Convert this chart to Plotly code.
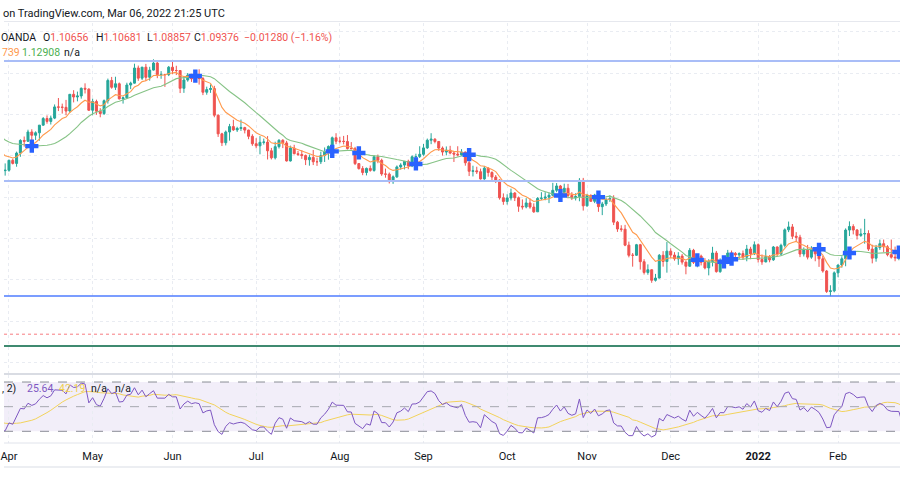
import numpy as np
import pandas as pd
import plotly.graph_objects as go

# ---------------- data (EUR/USD daily, OANDA) ----------------
# closes before the visible window (Feb 1 - Mar 26, 2021), used only to warm up the indicators
warmup_close = [
    1.2061, 1.2040, 1.2036, 1.1963, 1.2047, 1.2050, 1.2119, 1.2119, 1.2132, 1.2118,
    1.2126, 1.2105, 1.2037, 1.2092, 1.2118, 1.2156, 1.2149, 1.2165, 1.2175, 1.2075,
    1.2048, 1.2090, 1.2063, 1.1967, 1.1917, 1.1846, 1.1900, 1.1928, 1.1985, 1.1953,
    1.1930, 1.1901, 1.1977, 1.1915, 1.1905, 1.1937, 1.1851, 1.1815, 1.1778, 1.1793,
]

# visible bars: Mar 29, 2021 - Mar 4, 2022
open_px = [
    1.1795, 1.1764, 1.1728,
    1.1730, 1.1778, 1.1763, 1.1813, 1.1874, 1.1870, 1.1915, 1.1899, 1.1911, 1.1948, 1.1980,
    1.1966, 1.1982, 1.2036, 1.2035, 1.2034, 1.2016, 1.2097, 1.2084, 1.2089, 1.2126, 1.2122,
    1.2020, 1.2062, 1.2015, 1.2004, 1.2066, 1.2164, 1.2131, 1.2148, 1.2075, 1.2080, 1.2142,
    1.2151, 1.2224, 1.2175, 1.2228, 1.2179, 1.2214, 1.2248, 1.2192, 1.2193, 1.2192,
    1.2228, 1.2212, 1.2212, 1.2126, 1.2166, 1.2190, 1.2172, 1.2179, 1.2173, 1.2107, 1.2120,
    1.2125, 1.1996, 1.1906, 1.1863, 1.1915, 1.1941, 1.1925, 1.1932, 1.1936, 1.1924, 1.1894,
    1.1858, 1.1848, 1.1865, 1.1866, 1.1824, 1.1790, 1.1844, 1.1875, 1.1862, 1.1775, 1.1837,
    1.1810, 1.1806, 1.1801, 1.1781, 1.1792, 1.1771, 1.1771, 1.1801, 1.1819, 1.1845, 1.1887,
    1.1870, 1.1870, 1.1869, 1.1835, 1.1834, 1.1762, 1.1738, 1.1719, 1.1739, 1.1729, 1.1795,
    1.1778, 1.1712, 1.1711, 1.1675, 1.1698, 1.1746, 1.1755, 1.1773, 1.1751, 1.1795, 1.1796,
    1.1807, 1.1838, 1.1875, 1.1880, 1.1869, 1.1837, 1.1818, 1.1827, 1.1813, 1.1808, 1.1804,
    1.1818, 1.1766, 1.1725, 1.1727, 1.1723, 1.1688, 1.1740, 1.1719, 1.1697, 1.1683, 1.1597,
    1.1579, 1.1596, 1.1620, 1.1597, 1.1556, 1.1553, 1.1572, 1.1552, 1.1529, 1.1594, 1.1595,
    1.1600, 1.1609, 1.1633, 1.1654, 1.1623, 1.1643, 1.1608, 1.1597, 1.1603, 1.1681,
    1.1558, 1.1608, 1.1580, 1.1610, 1.1554, 1.1567, 1.1588, 1.1593, 1.1479, 1.1446, 1.1445,
    1.1368, 1.1319, 1.1319, 1.1370, 1.1288, 1.1236, 1.1249, 1.1198, 1.1209, 1.1319, 1.1289,
    1.1339, 1.1320, 1.1302, 1.1315, 1.1286, 1.1266, 1.1343, 1.1285, 1.1315, 1.1285, 1.1258,
    1.1289, 1.1330, 1.1240, 1.1281, 1.1280, 1.1330, 1.1328, 1.1321, 1.1327, 1.1310, 1.1349, 1.1326,
    1.1370, 1.1299, 1.1287, 1.1313, 1.1297, 1.1359, 1.1325, 1.1367, 1.1442, 1.1456, 1.1411,
    1.1406, 1.1325, 1.1344, 1.1310, 1.1345, 1.1326, 1.1302, 1.1243, 1.1144, 1.1147,
    1.1234, 1.1272, 1.1302, 1.1441, 1.1458, 1.1441, 1.1415, 1.1422, 1.1424, 1.1349,
    1.1305, 1.1356, 1.1375, 1.1360, 1.1322, 1.1310, 1.1307, 1.1308, 1.1191, 1.1270,
    1.1219, 1.1125, 1.1120, 1.1066,
]
high_px = [
    1.1800, 1.1770, 1.1763,
    1.1781, 1.1786, 1.1820, 1.1880, 1.1893, 1.1926, 1.1928, 1.1918, 1.1948, 1.1987, 1.1995,
    1.1994, 1.2048, 1.2079, 1.2052, 1.2070, 1.2098, 1.2117, 1.2110, 1.2130, 1.2150, 1.2126,
    1.2076, 1.2071, 1.2030, 1.2072, 1.2173, 1.2181, 1.2182, 1.2154, 1.2086, 1.2153, 1.2158,
    1.2245, 1.2236, 1.2230, 1.2244, 1.2230, 1.2266, 1.2262, 1.2209, 1.2196, 1.2234,
    1.2254, 1.2235, 1.2214, 1.2185, 1.2200, 1.2196, 1.2196, 1.2218, 1.2182, 1.2134, 1.2145,
    1.2138, 1.2000, 1.1911, 1.1922, 1.1954, 1.1974, 1.1940, 1.1975, 1.1940, 1.1926, 1.1904,
    1.1885, 1.1895, 1.1883, 1.1895, 1.1838, 1.1868, 1.1880, 1.1880, 1.1872, 1.1849, 1.1853,
    1.1823, 1.1827, 1.1806, 1.1806, 1.1828, 1.1791, 1.1820, 1.1840, 1.1850, 1.1893, 1.1909,
    1.1892, 1.1896, 1.1900, 1.1866, 1.1843, 1.1765, 1.1750, 1.1743, 1.1753, 1.1803, 1.1806,
    1.1786, 1.1738, 1.1719, 1.1705, 1.1753, 1.1764, 1.1774, 1.1781, 1.1802, 1.1810, 1.1846,
    1.1857, 1.1883, 1.1909, 1.1885, 1.1871, 1.1845, 1.1845, 1.1848, 1.1819, 1.1846, 1.1832,
    1.1820, 1.1781, 1.1752, 1.1747, 1.1738, 1.1751, 1.1745, 1.1725, 1.1707, 1.1686, 1.1618,
    1.1614, 1.1641, 1.1624, 1.1603, 1.1589, 1.1595, 1.1594, 1.1570, 1.1600, 1.1624, 1.1624,
    1.1622, 1.1669, 1.1668, 1.1659, 1.1665, 1.1664, 1.1624, 1.1619, 1.1692, 1.1693,
    1.1616, 1.1614, 1.1616, 1.1616, 1.1577, 1.1597, 1.1609, 1.1609, 1.1485, 1.1464, 1.1466,
    1.1385, 1.1330, 1.1374, 1.1374, 1.1300, 1.1275, 1.1251, 1.1229, 1.1325, 1.1339, 1.1383,
    1.1353, 1.1334, 1.1334, 1.1325, 1.1290, 1.1354, 1.1350, 1.1320, 1.1322, 1.1305, 1.1300,
    1.1360, 1.1340, 1.1304, 1.1306, 1.1345, 1.1342, 1.1335, 1.1333, 1.1342, 1.1369, 1.1360,
    1.1386, 1.1376, 1.1323, 1.1347, 1.1320, 1.1364, 1.1362, 1.1375, 1.1449, 1.1482, 1.1470,
    1.1431, 1.1418, 1.1357, 1.1369, 1.1363, 1.1348, 1.1337, 1.1316, 1.1248, 1.1174, 1.1241,
    1.1274, 1.1314, 1.1449, 1.1483, 1.1469, 1.1446, 1.1448, 1.1495, 1.1440, 1.1370,
    1.1369, 1.1395, 1.1395, 1.1368, 1.1395, 1.1361, 1.1344, 1.1320, 1.1274, 1.1275,
    1.1233, 1.1150, 1.1123, 1.1068,
]
low_px = [
    1.1760, 1.1711, 1.1704,
    1.1723, 1.1758, 1.1747, 1.1795, 1.1844, 1.1867, 1.1870, 1.1876, 1.1873, 1.1945, 1.1955,
    1.1951, 1.1977, 1.2016, 1.2004, 1.1996, 1.2008, 1.2058, 1.2063, 1.2076, 1.2101, 1.2017,
    1.1996, 1.1998, 1.1986, 1.1997, 1.2052, 1.2124, 1.2118, 1.2072, 1.2052, 1.2075, 1.2122,
    1.2149, 1.2162, 1.2166, 1.2161, 1.2163, 1.2212, 1.2175, 1.2172, 1.2133, 1.2185,
    1.2194, 1.2190, 1.2103, 1.2104, 1.2158, 1.2157, 1.2166, 1.2144, 1.2093, 1.2095, 1.2104,
    1.1986, 1.1891, 1.1847, 1.1850, 1.1873, 1.1920, 1.1915, 1.1920, 1.1908, 1.1880, 1.1848,
    1.1836, 1.1807, 1.1854, 1.1782, 1.1782, 1.1782, 1.1835, 1.1837, 1.1772, 1.1772, 1.1807,
    1.1799, 1.1785, 1.1755, 1.1752, 1.1755, 1.1751, 1.1760, 1.1770, 1.1781, 1.1839, 1.1856,
    1.1860, 1.1855, 1.1830, 1.1832, 1.1755, 1.1733, 1.1706, 1.1705, 1.1723, 1.1723, 1.1764,
    1.1703, 1.1694, 1.1666, 1.1664, 1.1693, 1.1733, 1.1734, 1.1735, 1.1745, 1.1785, 1.1789,
    1.1800, 1.1833, 1.1856, 1.1860, 1.1824, 1.1801, 1.1802, 1.1807, 1.1770, 1.1797, 1.1800,
    1.1752, 1.1702, 1.1700, 1.1712, 1.1685, 1.1684, 1.1699, 1.1682, 1.1668, 1.1588, 1.1563,
    1.1564, 1.1584, 1.1581, 1.1529, 1.1540, 1.1546, 1.1544, 1.1524, 1.1529, 1.1586, 1.1585,
    1.1571, 1.1605, 1.1624, 1.1609, 1.1620, 1.1594, 1.1586, 1.1584, 1.1580, 1.1535,
    1.1554, 1.1577, 1.1571, 1.1529, 1.1513, 1.1557, 1.1577, 1.1465, 1.1432, 1.1433, 1.1363,
    1.1309, 1.1264, 1.1316, 1.1250, 1.1226, 1.1225, 1.1186, 1.1192, 1.1207, 1.1264, 1.1235,
    1.1306, 1.1293, 1.1273, 1.1274, 1.1227, 1.1263, 1.1277, 1.1261, 1.1270, 1.1251, 1.1222,
    1.1265, 1.1235, 1.1234, 1.1259, 1.1276, 1.1303, 1.1310, 1.1300, 1.1297, 1.1290, 1.1300,
    1.1320, 1.1284, 1.1273, 1.1285, 1.1285, 1.1292, 1.1313, 1.1317, 1.1357, 1.1431, 1.1397,
    1.1388, 1.1310, 1.1313, 1.1299, 1.1302, 1.1290, 1.1263, 1.1235, 1.1137, 1.1121, 1.1140,
    1.1213, 1.1259, 1.1266, 1.1412, 1.1420, 1.1395, 1.1408, 1.1375, 1.1340, 1.1280,
    1.1288, 1.1345, 1.1334, 1.1314, 1.1303, 1.1290, 1.1295, 1.1106, 1.1180, 1.1153,
    1.1090, 1.1081, 1.1034, 1.0886,
]
close_px = [
    1.1764, 1.1728, 1.1730,
    1.1778, 1.1763, 1.1813, 1.1874, 1.1870, 1.1915, 1.1899, 1.1911, 1.1948, 1.1980, 1.1966,
    1.1982, 1.2036, 1.2035, 1.2034, 1.2016, 1.2097, 1.2084, 1.2089, 1.2126, 1.2122, 1.2020,
    1.2062, 1.2015, 1.2004, 1.2066, 1.2164, 1.2131, 1.2148, 1.2075, 1.2080, 1.2142, 1.2151,
    1.2224, 1.2175, 1.2228, 1.2179, 1.2214, 1.2248, 1.2192, 1.2193, 1.2192, 1.2228,
    1.2212, 1.2212, 1.2126, 1.2166, 1.2190, 1.2172, 1.2179, 1.2173, 1.2107, 1.2120, 1.2125,
    1.1996, 1.1906, 1.1863, 1.1915, 1.1941, 1.1925, 1.1932, 1.1936, 1.1924, 1.1894, 1.1858,
    1.1848, 1.1865, 1.1866, 1.1824, 1.1790, 1.1844, 1.1875, 1.1862, 1.1775, 1.1837, 1.1810,
    1.1806, 1.1801, 1.1781, 1.1792, 1.1771, 1.1771, 1.1801, 1.1819, 1.1845, 1.1887, 1.1870,
    1.1870, 1.1869, 1.1835, 1.1834, 1.1762, 1.1738, 1.1719, 1.1739, 1.1729, 1.1795, 1.1778,
    1.1712, 1.1711, 1.1675, 1.1698, 1.1746, 1.1755, 1.1773, 1.1751, 1.1795, 1.1796, 1.1807,
    1.1838, 1.1875, 1.1880, 1.1869, 1.1837, 1.1818, 1.1827, 1.1813, 1.1808, 1.1804, 1.1818,
    1.1766, 1.1725, 1.1727, 1.1723, 1.1688, 1.1740, 1.1719, 1.1697, 1.1683, 1.1597, 1.1579,
    1.1596, 1.1620, 1.1597, 1.1556, 1.1553, 1.1572, 1.1552, 1.1529, 1.1594, 1.1595, 1.1600,
    1.1609, 1.1633, 1.1654, 1.1623, 1.1643, 1.1608, 1.1597, 1.1603, 1.1681, 1.1558,
    1.1608, 1.1580, 1.1610, 1.1554, 1.1567, 1.1588, 1.1593, 1.1479, 1.1446, 1.1445, 1.1368,
    1.1319, 1.1319, 1.1370, 1.1288, 1.1236, 1.1249, 1.1198, 1.1209, 1.1319, 1.1289, 1.1339,
    1.1320, 1.1302, 1.1315, 1.1286, 1.1266, 1.1343, 1.1285, 1.1315, 1.1285, 1.1258, 1.1289,
    1.1330, 1.1240, 1.1281, 1.1280, 1.1330, 1.1328, 1.1321, 1.1327, 1.1310, 1.1349, 1.1326, 1.1370,
    1.1299, 1.1287, 1.1313, 1.1297, 1.1359, 1.1325, 1.1367, 1.1442, 1.1456, 1.1411, 1.1406,
    1.1325, 1.1344, 1.1310, 1.1345, 1.1326, 1.1302, 1.1243, 1.1144, 1.1147, 1.1234,
    1.1272, 1.1302, 1.1441, 1.1458, 1.1441, 1.1415, 1.1422, 1.1424, 1.1349, 1.1305,
    1.1356, 1.1375, 1.1360, 1.1322, 1.1310, 1.1307, 1.1308, 1.1191, 1.1270, 1.1219,
    1.1125, 1.1120, 1.1066, 1.0938,
]

month_starts = ["2021-04-01", "2021-05-03", "2021-06-01", "2021-07-01", "2021-08-02",
                "2021-09-01", "2021-10-01", "2021-11-01", "2021-12-01", "2022-01-03",
                "2022-02-01", "2022-03-01"]
month_labels = ["Apr", "May", "Jun", "Jul", "Aug", "Sep", "Oct", "Nov", "Dec",
                "<b>2022</b>", "Feb", "Mar"]

drawn_levels = [1.2258, 1.1678, 1.1122]     # blue horizontal lines
last_close_level = 1.09376                  # red dotted price line
green_level = 1.0880                        # green horizontal line

fast_len, slow_len = 9, 20
rsi_len, rsi_ma_len = 14, 14

# ---------------- derived ----------------
dates = pd.bdate_range("2021-02-01", "2022-03-04")
closes_all = pd.Series(warmup_close + close_px)
n_all = len(closes_all)
dates = dates[:n_all]
idx_all = np.arange(n_all)
start = len(warmup_close)
idx_vis = idx_all[start:start + len(close_px)]

ma_fast = closes_all.ewm(span=fast_len, adjust=False).mean()
ma_slow = closes_all.rolling(slow_len).mean()

delta = closes_all.diff()
gain = delta.clip(lower=0)
loss = (-delta).clip(lower=0)
avg_gain = gain.ewm(alpha=1 / rsi_len, adjust=False).mean()
avg_loss = loss.ewm(alpha=1 / rsi_len, adjust=False).mean()
rsi = 100 - 100 / (1 + avg_gain / avg_loss)
rsi_ma = rsi.rolling(rsi_ma_len).mean()

diff = (ma_fast - ma_slow).values
cross_i = [i for i in range(slow_len + 1, n_all) if np.sign(diff[i]) != np.sign(diff[i - 1])]
cross_y = [ma_slow.values[i] for i in cross_i]

tickvals = [int(dates.get_loc(pd.Timestamp(d))) for d in month_starts]

x_lo = tickvals[0] - 5 / 3.82
x_hi = x_lo + 900 / 3.82

# ---------------- figure ----------------
fig = go.Figure()

fig.add_trace(go.Candlestick(
    x=idx_vis, open=open_px, high=high_px, low=low_px, close=close_px,
    increasing=dict(line=dict(color="#26a69a", width=1), fillcolor="#26a69a"),
    decreasing=dict(line=dict(color="#ef5350", width=1), fillcolor="#ef5350"),
    whiskerwidth=0, hoverinfo="skip", xaxis="x", yaxis="y", showlegend=False))

fig.add_trace(go.Scatter(x=idx_all, y=ma_slow, mode="lines",
                         line=dict(color="#86c386", width=1.1), hoverinfo="skip",
                         xaxis="x", yaxis="y", showlegend=False))
fig.add_trace(go.Scatter(x=idx_all, y=ma_fast, mode="lines",
                         line=dict(color="#ff9a4d", width=1.1), hoverinfo="skip",
                         xaxis="x", yaxis="y", showlegend=False))
fig.add_trace(go.Scatter(x=cross_i, y=cross_y, mode="markers",
                         marker=dict(symbol="cross", size=11, color="#2962ff", line=dict(width=0)),
                         hoverinfo="skip", xaxis="x", yaxis="y", showlegend=False))

fig.add_trace(go.Scatter(x=idx_all, y=rsi_ma, mode="lines",
                         line=dict(color="#f3d35b", width=1), hoverinfo="skip",
                         xaxis="x2", yaxis="y2", showlegend=False))
fig.add_trace(go.Scatter(x=idx_all, y=rsi, mode="lines",
                         line=dict(color="#7e57c2", width=1), hoverinfo="skip",
                         xaxis="x2", yaxis="y2", showlegend=False))

shapes = []
for i, lv in enumerate(drawn_levels):
    shapes.append(dict(type="line", xref="paper", x0=0, x1=1, yref="y", y0=lv, y1=lv,
                       line=dict(color="#a9bdf7" if i < 2 else "#4f7cff", width=2 if i < 2 else 1.5)))
shapes.append(dict(type="line", xref="paper", x0=0, x1=1, yref="y", y0=last_close_level,
                   y1=last_close_level, line=dict(color="#f77c80", width=1, dash="dot")))
shapes.append(dict(type="line", xref="paper", x0=0, x1=1, yref="y", y0=green_level,
                   y1=green_level, line=dict(color="#3f8a70", width=2)))
# RSI band
shapes.append(dict(type="rect", xref="paper", x0=0, x1=1, yref="y2", y0=30, y1=70,
                   fillcolor="rgba(126,87,194,0.10)", line=dict(width=0), layer="below"))
for lv, col in [(70, "#8a8d96"), (50, "#a6a8b0"), (30, "#8a8d96")]:
    shapes.append(dict(type="line", xref="paper", x0=0, x1=1, yref="y2", y0=lv, y1=lv,
                       line=dict(color=col, width=1, dash="dash")))
# pane separators
for ypx, col, w in [(21.5, "#e6e8ee", 1), (374, "#d9dce3", 2), (443, "#e0e3eb", 1), (467, "#e6e8ee", 1.5)]:
    shapes.append(dict(type="line", xref="paper", x0=0, x1=1, yref="paper",
                       y0=1 - ypx / 500, y1=1 - ypx / 500, line=dict(color=col, width=w)))

txt = "#131722"
red = "#ef5350"


def label(xpx, ypx, text, color=txt, size=10.5):
    return dict(x=xpx / 900, y=1 - ypx / 500, xref="paper", yref="paper", xanchor="left",
                yanchor="middle", showarrow=False, text=text, xshift=-3,
                font=dict(family="Roboto", size=size, color=color))


annotations = [
    label(0, 13, "on TradingView.com, Mar 06, 2022 21:25 UTC", size=11),
    label(-2, 38, "OANDA"),
    label(40, 38, f"O<span style='color:{red}'>1.10656</span>"),
    label(93, 38, f"H<span style='color:{red}'>1.10681</span>"),
    label(145, 38, f"L<span style='color:{red}'>1.08857</span>"),
    label(192, 38, f"C<span style='color:{red}'>1.09376</span>"),
    label(242, 38, "−0.01280 (−1.16%)", color=red),
    label(-1, 53, "739", color="#ff9a4d"),
    label(19, 53, "1.12908", color="#4caf50"),
    label(61, 53, "n/a"),
    label(-1, 388, ", 2)"),
    label(24, 388, "25.64", color="#7e57c2"),
    label(56, 388, "42.19", color="#f0cf4e"),
    label(88, 388, "n/a"),
    label(112, 388, "n/a"),
]

grid = "#e9ecf2"
fig.update_layout(
    width=900, height=500, margin=dict(l=0, r=0, t=0, b=0),
    paper_bgcolor="white", plot_bgcolor="white", showlegend=False,
    boxgap=0.25,
    shapes=shapes, annotations=annotations,
    xaxis=dict(domain=[0, 1], anchor="y", range=[x_lo, x_hi], tickvals=tickvals,
               showticklabels=False, showgrid=True, gridcolor=grid, griddash="dot",
               zeroline=False, showline=False, rangeslider=dict(visible=False), fixedrange=True),
    yaxis=dict(domain=[1 - 373 / 500, 1 - 23 / 500], anchor="x",
               range=[1.22 - 300 / 2069, 1.22 + 50 / 2069],
               tick0=1.08, dtick=0.02, showticklabels=False, showgrid=True, gridcolor=grid,
               griddash="dot", zeroline=False, showline=False),
    xaxis2=dict(domain=[0, 1], anchor="y2", matches="x", range=[x_lo, x_hi], tickvals=tickvals,
                ticktext=month_labels, ticks="outside", ticklen=3, tickcolor="rgba(0,0,0,0)",
                ticklabeloverflow="allow",
                tickfont=dict(family="Roboto", size=11, color=txt), showgrid=True,
                gridcolor=grid, griddash="dot", zeroline=False, showline=False),
    yaxis2=dict(domain=[1 - 443 / 500, 1 - 375 / 500], anchor="x2", range=[20.5, 75.7],
                showticklabels=False, showgrid=False, zeroline=False, showline=False),
)

fig.write_html("out.html", config={"displayModeBar": False, "staticPlot": True},
               post_script="document.body.style.margin='0';document.body.style.overflow='hidden';")
